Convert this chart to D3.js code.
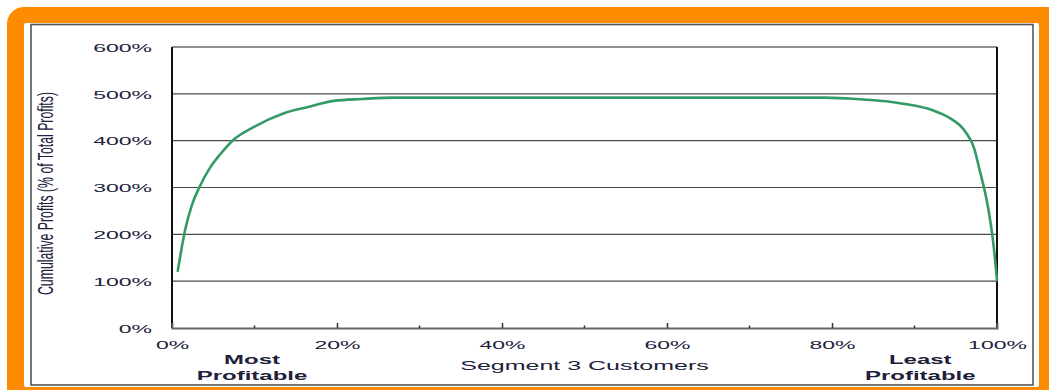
<!DOCTYPE html>
<html>
<head>
<meta charset="utf-8">
<script src="https://cdn.jsdelivr.net/npm/d3@7"></script>
<style>
  body { margin: 0; background: #fff; }
  svg { display: block; }
  text { font-family: "Liberation Sans", Arial, sans-serif; fill: #20203a; }
</style>
</head>
<body>
<script>
// chart values
var customerPct = [0.7, 1.6, 2.4, 3.3, 4.6, 5.8, 7.4, 10, 13.5, 16.5, 19.6, 23, 27, 35, 50, 65, 79, 82, 84.6, 87, 88.2, 90, 92.2, 94.3, 95.5, 96.3, 97.2, 97.9, 98.9, 99.6, 100];
var profitPct   = [122, 210, 262, 300, 342, 370, 401, 430, 458, 472, 485, 489, 492, 492, 492, 492, 492, 490, 487, 483, 480, 475, 465, 448, 433, 416, 385, 337, 259, 174, 102];
var yTicks = [0, 100, 200, 300, 400, 500, 600];
var xTicks = [0, 20, 40, 60, 80, 100];
var minorTicks = [10, 30, 50, 70, 90];
var endLabels = [
  { pos: 9.7, lines: ["Most", "Profitable"] },
  { pos: 90.7, lines: ["Least", "Profitable"] }
];
var xTitle = "Segment 3 Customers";
var yTitle = "Cumulative Profits (% of Total Profits)";

var W = 1049, H = 390;
var SX = 2; // the picture is stretched sideways, text too
var LEFT = 172, RIGHT = 997, TOP = 47, BOTTOM = 328;

var SVG = d3.select("body").append("svg").attr("width", W).attr("height", H);

// orange frame
SVG.append("rect").attr("x", 7).attr("y", 7).attr("width", 1080).attr("height", 420)
   .attr("rx", 17).attr("fill", "#ff8c00");
SVG.append("rect").attr("x", 24).attr("y", 23).attr("width", 1015).attr("height", 364)
   .attr("rx", 2).attr("fill", "#fff");
SVG.append("rect").attr("x", 31).attr("y", 24.5).attr("width", 1002).attr("height", 360.5)
   .attr("fill", "none").attr("stroke", "#555").attr("stroke-width", 1.6);

var x = d3.scaleLinear().domain([0, 100]).range([LEFT, RIGHT]);
var y = d3.scaleLinear().domain([0, 600]).range([BOTTOM, TOP]);

// gridlines
SVG.append("g").selectAll("line").data(yTicks.filter(function(d){ return d > 0; }))
   .join("line")
   .attr("x1", LEFT).attr("x2", RIGHT)
   .attr("y1", function(d){ return y(d); }).attr("y2", function(d){ return y(d); })
   .attr("stroke", function(d){ return d == 600 ? "#222" : "#4a4a4a"; })
   .attr("stroke-width", 1.2);

// plot frame
SVG.append("line").attr("x1", LEFT).attr("x2", LEFT).attr("y1", TOP).attr("y2", BOTTOM)
   .attr("stroke", "#111").attr("stroke-width", 2);
SVG.append("line").attr("x1", RIGHT).attr("x2", RIGHT).attr("y1", TOP).attr("y2", BOTTOM)
   .attr("stroke", "#111").attr("stroke-width", 2);

// y axis
var yAxis = SVG.append("g").attr("transform", "translate(" + LEFT + ",0)")
   .call(d3.axisLeft(y).tickValues(yTicks).tickSize(0).tickFormat(function(d){ return d + "%"; }));
yAxis.select(".domain").remove();
yAxis.selectAll("text")
   .attr("x", -10).attr("dy", "0.37em")
   .attr("transform", "scale(" + SX + ",1)")
   .style("font-size", "11.5px").style("font-family", null);

// x axis, ticks point up
var xAxis = SVG.append("g").attr("transform", "translate(0," + BOTTOM + ")")
   .call(d3.axisBottom(x).tickValues(xTicks).tickSize(-5).tickFormat(function(d){ return d + "%"; }));
xAxis.select(".domain").attr("stroke", "#666").attr("stroke-width", 2);
xAxis.selectAll(".tick line").attr("stroke", "#333").attr("stroke-width", 1.5)
   .filter(function(d){ return d == 0 || d == 100; }).remove();
xAxis.selectAll("text")
   .attr("y", 21).attr("dy", 0)
   .attr("transform", "scale(" + SX + ",1)")
   .style("font-size", "11.5px").style("font-family", null);
SVG.append("g").selectAll("line").data(minorTicks).join("line")
   .attr("x1", function(d){ return x(d); }).attr("x2", function(d){ return x(d); })
   .attr("y1", BOTTOM).attr("y2", BOTTOM - 2.5)
   .attr("stroke", "#333").attr("stroke-width", 1.5);

// curve
var line = d3.line()
   .x(function(d, i){ return x(customerPct[i]); })
   .y(function(d){ return y(d); })
   .curve(d3.curveMonotoneX);
SVG.append("path").datum(profitPct)
   .attr("d", line)
   .attr("fill", "none").attr("stroke", "#349a66").attr("stroke-width", 2.6)
   .attr("stroke-linejoin", "round").attr("stroke-linecap", "round");

// x title
SVG.append("text")
   .attr("transform", "translate(" + (LEFT + RIGHT) / 2 + ",369.5) scale(" + SX + ",1)")
   .attr("text-anchor", "middle").style("font-size", "12.5px")
   .text(xTitle);

// most / least profitable
endLabels.forEach(function(e){
  e.lines.forEach(function(t, i){
    SVG.append("text")
       .attr("transform", "translate(" + x(e.pos) + "," + (364 + i * 15.5) + ") scale(" + SX + ",1)")
       .attr("text-anchor", "middle").style("font-size", "12px").style("font-weight", "bold")
       .text(t);
  });
});

// y title
SVG.append("text")
   .attr("transform", "translate(53,193.5) scale(1.8,1) rotate(-90)")
   .attr("text-anchor", "middle").style("font-size", "12px")
   .attr("textLength", 203).attr("lengthAdjust", "spacingAndGlyphs")
   .text(yTitle);
</script>
</body>
</html>
